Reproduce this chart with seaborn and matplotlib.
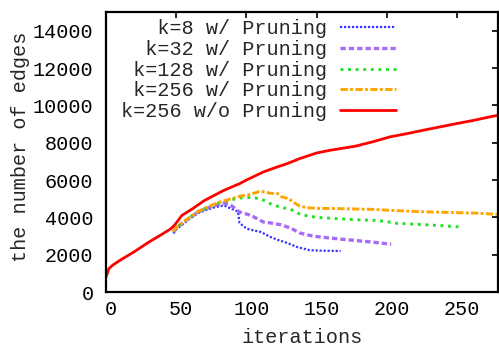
import numpy as np
import pandas as pd
import matplotlib
matplotlib.use("Agg")
import matplotlib.pyplot as plt
import matplotlib.transforms as mtransforms
import seaborn as sns

# k=256 sem poda
x_nopr = [0, 1, 2, 5, 10, 20, 30, 40, 46, 49, 54, 62, 70, 84, 95, 100, 112, 120, 129, 138,
          150, 160, 170, 178, 190, 202, 214, 226, 238, 250, 262, 273, 279]
y_nopr = [820, 1000, 1250, 1450, 1700, 2150, 2650, 3100, 3380, 3600, 4100, 4480, 4900, 5450,
          5800, 6000, 6430, 6650, 6880, 7150, 7450, 7600, 7720, 7820, 8050, 8310, 8480, 8670,
          8850, 9030, 9200, 9380, 9470]

# k=256 com poda
x_k256 = [48, 50, 55, 60, 66, 74, 80, 87, 95, 102, 110, 117, 122, 125, 130, 133, 138, 143,
          150, 164, 188, 209, 225, 245, 262, 279]
y_k256 = [3250, 3450, 3750, 4020, 4330, 4600, 4800, 4950, 5130, 5220, 5400, 5290, 5280, 5100,
          5000, 4830, 4600, 4520, 4480, 4470, 4430, 4350, 4300, 4260, 4230, 4160]

# k=128 com poda
x_k128 = [48, 50, 55, 60, 66, 74, 80, 88, 95, 103, 110, 114, 119, 124, 133, 138, 145, 152,
          165, 176, 190, 195, 200, 205, 210, 226, 240, 251]
y_k128 = [3250, 3450, 3750, 4020, 4330, 4600, 4780, 4920, 5040, 5060, 5000, 4850, 4650, 4560,
          4380, 4170, 4050, 3990, 3930, 3880, 3840, 3810, 3770, 3690, 3670, 3610, 3550, 3490]

# k=32 com poda
x_k32 = [48, 50, 55, 60, 66, 74, 80, 84, 88, 95, 103, 112, 117, 124, 126, 132, 138, 145, 152,
         165, 176, 190, 203]
y_k32 = [3200, 3420, 3720, 4000, 4300, 4550, 4700, 4760, 4700, 4290, 4110, 3750, 3700, 3610,
         3570, 3400, 3160, 3030, 2950, 2850, 2770, 2670, 2560]

# k=8 com poda
x_k8 = [48, 50, 55, 60, 66, 72, 78, 84, 88, 92, 94, 95, 100, 105, 110, 117, 122, 129, 136,
        145, 155, 167]
y_k8 = [3130, 3350, 3650, 3950, 4250, 4420, 4550, 4640, 4500, 4380, 4290, 3700, 3400, 3300,
        3220, 2950, 2800, 2630, 2410, 2240, 2210, 2200]

labels = ["k=8 w/ Pruning", "k=32 w/ Pruning", "k=128 w/ Pruning",
          "k=256 w/ Pruning", "k=256 w/o Pruning"]
xticks = [0, 50, 100, 150, 200, 250]
yticks = [0, 2000, 4000, 6000, 8000, 10000, 12000, 14000]

sns.set_style("white")
plt.rcParams["font.family"] = ["Liberation Mono", "DejaVu Sans Mono"]
plt.rcParams["font.size"] = 14.5

fig = plt.figure(figsize=(4.99, 3.49), dpi=100)
ax = fig.add_axes([0.2124, 0.1633, 0.998 - 0.2124, 0.9656 - 0.1633])

series = [
    (x_k8, y_k8, "#3535ff", (0, (1, 0.8)), 1.6),
    (x_k32, y_k32, "#a66cf5", (0, (1.6, 0.9)), 2.4),
    (x_k128, y_k128, "#22e022", (0, (1, 1.6)), 2.1),
    (x_k256, y_k256, "#ffa500", (0, (2.5, 0.8, 1, 0.8)), 2.1),
    (x_nopr, y_nopr, "#ff0000", "-", 2.0),
]
w = max(len(s) for s in labels)
for (xs, ys, c, ls, lw), lab in zip(series, labels):
    sns.lineplot(x=xs, y=ys, ax=ax, color=c, linestyle=ls, linewidth=lw,
                 label=lab.rjust(w), estimator=None, sort=False)

ax.set_xlim(0, 279)
ax.set_ylim(0, 15000)
ax.set_xticks(xticks)
ax.set_yticks(yticks)
ax.tick_params(direction="in", length=4, width=1.2, top=True, right=True,
               labelsize=14.5, colors="black")
ax.tick_params(axis="y", pad=9)
ax.tick_params(axis="x", pad=6)
for lbl in ax.get_xticklabels():
    lbl.set_transform(lbl.get_transform() + mtransforms.ScaledTranslation(5 / 100, 0, fig.dpi_scale_trans))
for sp in ax.spines.values():
    sp.set_linewidth(1.6)
    sp.set_color("black")
    sp.set_visible(True)

ax.set_xlabel("iterations", fontsize=14.5)
ax.set_ylabel("the number of edges", fontsize=14.5)
ax.xaxis.set_label_coords(0.5, -0.128)
ax.yaxis.set_label_coords(-0.195, 0.52)

ax.legend(loc="upper right", bbox_to_anchor=(0.776, 1.024), frameon=False,
          markerfirst=False, handlelength=2.8, handletextpad=0.6,
          labelspacing=0.08, fontsize=14.5, borderpad=0.2)

fig.savefig("out.png", dpi=100)
